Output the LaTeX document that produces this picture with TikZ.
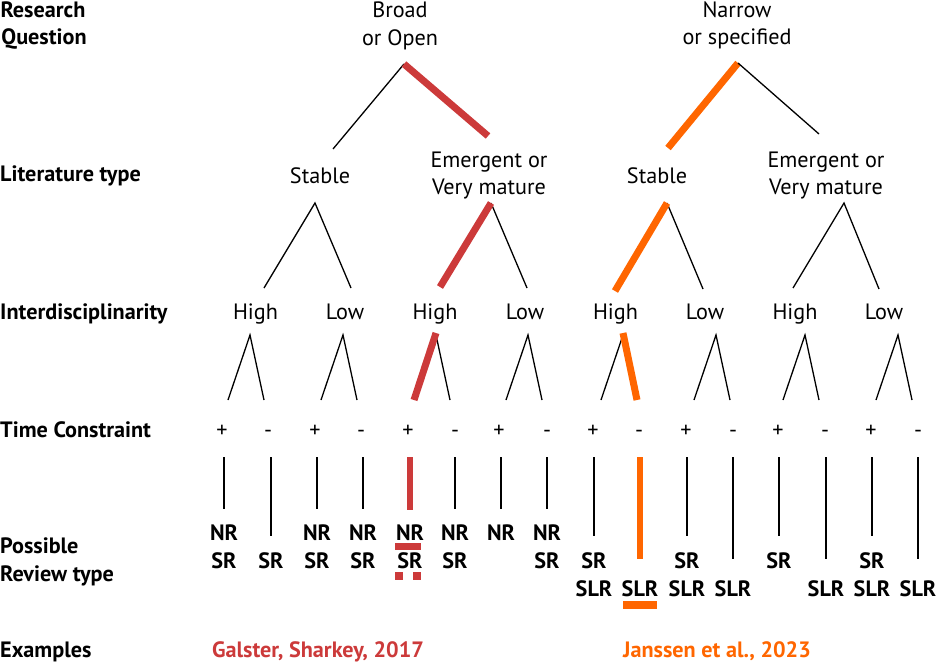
\documentclass[tikz,border=0pt]{standalone}
\usepackage{fontspec}
\setmainfont{PT Sans}
\definecolor{rred}{HTML}{CC3A3A}
\definecolor{oor}{HTML}{FF6600}
\begin{document}
\begin{tikzpicture}[x=1pt,y=-1pt,
  lab/.style={font=\fontsize{22.2}{28}\selectfont\bfseries, anchor=base west, inner sep=0},
  labc/.style={font=\fontsize{22.2}{28}\selectfont\bfseries, anchor=base, inner sep=0},
  txt/.style={font=\fontsize{22.2}{28}\selectfont, anchor=base, inner sep=0},
  rv/.style={font=\fontsize{22.2}{28}\selectfont\bfseries, anchor=base, inner sep=0},
  ln/.style={line width=1.3pt},
  hlr/.style={line width=7pt, draw=rred},
  hlo/.style={line width=7pt, draw=oor}]
\useasboundingbox (0,0) rectangle (936,664);

% row labels
\node[labc] (rq1) at (43,17) {Research};
\node[labc] (rq2) at (44,44) {Question};
\node[lab] (lt) at (0,181) {Literature type};
\node[lab] (id) at (0,319) {Interdisciplinarity};
\node[lab] (tc) at (0,437) {Time Constraint};
\node[lab] (p1) at (0,553) {Possible};
\node[lab] (p2) at (0,581) {Review type};
\node[lab] (ex) at (0,657) {Examples};

% level 1
\node[txt] (b1) at (400,17) {Broad};
\node[txt] (b2) at (400,45) {or Open};
\node[txt] (n1) at (737,17) {Narrow};
\node[txt] (n2) at (737,44) {or specified};

% level 2
\node[txt] (s1) at (320,183) {Stable};
\node[txt] (e1a) at (489,167) {Emergent or};
\node[txt] (e1b) at (489,194) {Very mature};
\node[txt] (s2) at (657,183) {Stable};
\node[txt] (e2a) at (826,167) {Emergent or};
\node[txt] (e2b) at (826,194) {Very mature};

% level 3
\foreach \k/\x/\t in {1/255.5/High,2/345/Low,3/435/High,4/525/Low,5/615.5/High,6/705/Low,7/795/High,8/884/Low}
  \node[txt] (h\k) at (\x,319) {\t};

% top trees
\coordinate (T1) at (404,64); \coordinate (T1l) at (333,149); \coordinate (T1r) at (488,136);
\coordinate (T2) at (738,63); \coordinate (T2l) at (668,148); \coordinate (T2r) at (819,134);
\draw[ln] (T1) -- (T1l);
\draw[hlr] (T1) -- (T1r);
\draw[hlo] (T2) -- (T2l);
\draw[ln] (T2) -- (T2r);

% level 2 trees
\coordinate (A1) at (315,203); \coordinate (A1l) at (264,288); \coordinate (A1r) at (351,288);
\coordinate (A2) at (491,203); \coordinate (A2l) at (440,287); \coordinate (A2r) at (527,288);
\coordinate (A3) at (667,203); \coordinate (A3l) at (615,291); \coordinate (A3r) at (703,289);
\coordinate (A4) at (844,203); \coordinate (A4l) at (793,288); \coordinate (A4r) at (879,289);
\draw[ln] (A1l) -- (A1) -- (A1r);
\draw[ln] (A2) -- (A2r);
\draw[hlr] (A2) -- (A2l);
\draw[ln] (A3) -- (A3r);
\draw[hlo] (A3) -- (A3l);
\draw[ln] (A4l) -- (A4) -- (A4r);

% level 3 small trees
\foreach \k/\x in {1/250,2/343,3/436,4/528,5/623,6/716,7/805,8/898} {
  \coordinate (a\k) at (\x,335);
  \coordinate (l\k) at (\x-22,400);
  \coordinate (r\k) at (\x+14,400);
}
\foreach \k in {1,2,4,6,7,8} \draw[ln] (l\k) -- (a\k) -- (r\k);
\draw[ln] (a3) -- (r3);
\draw[hlr] ([yshift=2]a3) -- (l3);
\draw[ln] (a5) -- (l5);
\draw[hlo] ([yshift=2]a5) -- (r5);

% time constraint signs
\foreach \k/\x in {1/222,2/315,3/408,4/499,5/593,6/686,7/778,8/871}
  \node[txt] (pl\k) at (\x,437) {+};
\foreach \k/\x in {1/268,2/361,3/455,4/547,5/639,6/733,7/825,8/918}
  \node[txt] (mi\k) at (\x,437) {-};

% vertical lines
\foreach \i/\x/\e in {1/224/509,2/271/536,3/317/509,4/363/509,6/455/509,7/501/509,8/547/509,
  9/594/536,11/687/536,12/733/559,13/779/536,14/826/559,15/872/536,16/918/559} {
  \coordinate (vt\i) at (\x,457);
  \coordinate (vb\i) at (\x,\e);
  \draw[ln] (vt\i) -- (vb\i);
}
\coordinate (vt5) at (410,457); \coordinate (vb5) at (410,510);
\draw[line width=6pt, draw=rred] (vt5) -- (vb5);
\coordinate (vt10) at (640,457); \coordinate (vb10) at (640,559);
\draw[line width=6pt, draw=oor] (vt10) -- (vb10);

% review types
\foreach \i/\x in {1/224,3/317,4/363,5/410,6/455,7/501,8/547}
  \node[rv] (nr\i) at (\x,540) {NR};
\foreach \i/\x in {1/224,2/271,3/317,4/363,5/410,6/455,8/547,9/594,11/687,13/779,15/872}
  \node[rv] (sr\i) at (\x,568) {SR};
\foreach \i/\x in {9/594,10/640,11/687,12/733,14/826,15/872,16/918}
  \node[rv] (slr\i) at (\x,596) {SLR};

% highlights
\fill[rred] (395,543) rectangle (421,550);
\fill[rred] (395,572) rectangle (403,580);
\fill[rred] (413,572) rectangle (421,580);
\fill[oor] (623,601) rectangle (657,609);

% examples
\node[rv, text=rred] (g) at (318,657) {Galster, Sharkey, 2017};
\node[rv, text=oor] (j) at (717,657) {Janssen et al., 2023};
\end{tikzpicture}
\end{document}
